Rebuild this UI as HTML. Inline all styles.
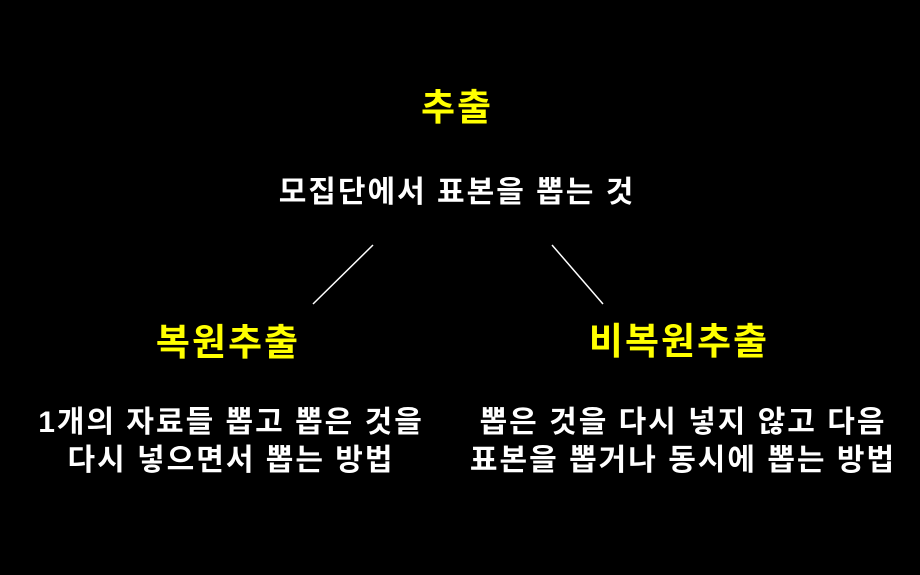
<!DOCTYPE html>
<html><head><meta charset="utf-8"><style>
body{margin:0;width:920px;height:575px;background:#000;position:relative;overflow:hidden;font-family:"Liberation Sans","Noto Sans CJK KR",sans-serif;font-weight:bold}
.t{position:absolute;white-space:nowrap;transform:translateX(-50%);line-height:1;letter-spacing:2px}
.y{color:#ff0;font-size:37px}
.w{color:#fff;font-size:30px}
</style></head><body>
<div class="t y" style="left:457px;top:89px">추출</div>
<div class="t w" style="left:457px;top:178px">모집단에서 표본을 뽑는 것</div>
<svg width="920" height="575" style="position:absolute;left:0;top:0">
<line x1="373" y1="245" x2="313" y2="304" stroke="#fff" stroke-width="1.5"/>
<line x1="552" y1="245" x2="603" y2="304" stroke="#fff" stroke-width="1.5"/>
</svg>
<div class="t y" style="left:228px;top:324px">복원추출</div>
<div class="t y" style="left:679px;top:323px">비복원추출</div>
<div class="t w" style="left:231px;top:408px">1개의 자료들 뽑고 뽑은 것을</div>
<div class="t w" style="left:231px;top:446px">다시 넣으면서 뽑는 방법</div>
<div class="t w" style="left:683px;top:408px">뽑은 것을 다시 넣지 않고 다음</div>
<div class="t w" style="left:683px;top:446px">표본을 뽑거나 동시에 뽑는 방법</div>
</body></html>
